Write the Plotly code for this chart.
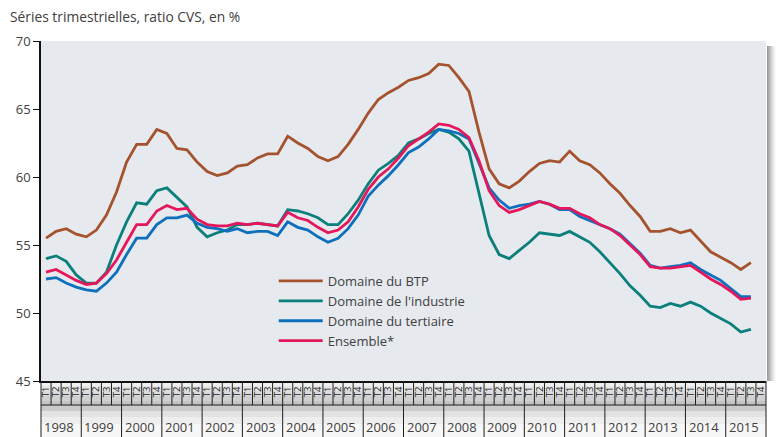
import plotly.graph_objects as go

# quarterly series, 1998 T1 .. 2015 T3
years = list(range(1998, 2016))
quarter_names = ["T1", "T2", "T3", "T4"]
periods = [f"{y} {q}" for y in years for q in quarter_names]

btp = [55.5, 56.0, 56.2, 55.8, 55.6, 56.1, 57.2, 58.9, 61.1, 62.4, 62.4, 63.5,
       63.2, 62.1, 62.0, 61.1, 60.4, 60.1, 60.3, 60.8, 60.9, 61.4, 61.7, 61.7,
       63.0, 62.5, 62.1, 61.5, 61.2, 61.5, 62.4, 63.5, 64.7, 65.7, 66.2, 66.6,
       67.1, 67.3, 67.6, 68.3, 68.2, 67.3, 66.3, 63.3, 60.6, 59.5, 59.2, 59.7,
       60.4, 61.0, 61.2, 61.1, 61.9, 61.2, 60.9, 60.3, 59.5, 58.8, 57.9, 57.1,
       56.0, 56.0, 56.2, 55.9, 56.1, 55.3, 54.5, 54.1, 53.7, 53.2, 53.7]
industrie = [54.0, 54.2, 53.8, 52.8, 52.2, 52.2, 53.0, 55.0, 56.7, 58.1, 58.0, 59.0,
             59.2, 58.5, 57.8, 56.3, 55.6, 55.9, 56.1, 56.5, 56.5, 56.6, 56.5, 56.4,
             57.6, 57.5, 57.3, 57.0, 56.5, 56.5, 57.3, 58.3, 59.5, 60.5, 61.0, 61.6,
             62.5, 62.8, 63.2, 63.5, 63.3, 62.8, 61.9, 58.9, 55.7, 54.3, 54.0, 54.6,
             55.2, 55.9, 55.8, 55.7, 56.0, 55.6, 55.2, 54.5, 53.7, 52.9, 52.0, 51.3,
             50.5, 50.4, 50.7, 50.5, 50.8, 50.5, 50.0, 49.6, 49.2, 48.6, 48.8]
tertiaire = [52.5, 52.6, 52.2, 51.9, 51.7, 51.6, 52.2, 53.0, 54.3, 55.5, 55.5, 56.5,
             57.0, 57.0, 57.2, 56.6, 56.3, 56.2, 56.0, 56.2, 55.9, 56.0, 56.0, 55.7,
             56.7, 56.3, 56.1, 55.6, 55.2, 55.5, 56.2, 57.2, 58.6, 59.4, 60.1, 60.9,
             61.8, 62.2, 62.8, 63.5, 63.4, 63.2, 62.8, 61.0, 59.2, 58.3, 57.7, 57.9,
             58.0, 58.2, 58.0, 57.6, 57.6, 57.1, 56.8, 56.5, 56.2, 55.8, 55.1, 54.4,
             53.5, 53.3, 53.4, 53.5, 53.7, 53.2, 52.8, 52.4, 51.8, 51.2, 51.2]
ensemble = [53.0, 53.2, 52.8, 52.4, 52.1, 52.2, 52.9, 53.9, 55.2, 56.5, 56.5, 57.5,
            57.9, 57.6, 57.7, 56.9, 56.5, 56.4, 56.4, 56.6, 56.5, 56.6, 56.5, 56.4,
            57.4, 57.0, 56.8, 56.3, 55.9, 56.1, 56.7, 57.8, 59.1, 60.0, 60.6, 61.4,
            62.3, 62.8, 63.3, 63.9, 63.8, 63.5, 62.9, 61.2, 59.0, 57.9, 57.4, 57.6,
            57.9, 58.2, 58.0, 57.7, 57.7, 57.3, 57.0, 56.5, 56.2, 55.7, 55.0, 54.3,
            53.4, 53.3, 53.3, 53.4, 53.5, 53.0, 52.5, 52.1, 51.6, 51.0, 51.1]

series = [
    ("Domaine du BTP", btp, "#a5532e"),
    ("Domaine de l'industrie", industrie, "#0b7f7b"),
    ("Domaine du tertiaire", tertiaire, "#0e6fbd"),
    ("Ensemble*", ensemble, "#e5175b"),
]

FONT = "Open Sans"
TXT = "#404040"
W, H = 776, 437
L, R, T, B = 41, 10, 41, 56
PW, PH = W - L - R, H - T - B

fig = go.Figure()
for name, vals, col in series:
    fig.add_trace(go.Scatter(x=periods[:len(vals)], y=vals, name=name, mode="lines",
                             line=dict(color=col, width=2.8)))

n_q = len(periods)
shapes = []

def py(px):  # pixel from top of figure -> paper y
    return (H - B - px) / PH

# grey gradient band under the plot
grad = [(381, 386, "#f0f0f0"), (386, 391, "#e6e6e6"), (391, 396, "#dbdbdb"),
        (396, 401, "#d0d0d0"), (401, 406, "#c4c4c4"), (406, 411, "#cbcbcb"),
        (411, 417, "#e2e2e2"), (417, 424, "#eeeeee"), (424, 437, "#f7f7f7")]
for a, b, c in grad:
    shapes.append(dict(type="rect", xref="paper", yref="paper", x0=0, x1=1,
                       y0=py(b), y1=py(a), fillcolor=c, line_width=0, layer="below"))

# right shadow
shade = ["#9c9c9c", "#a8a8a8", "#b6b6b6", "#c4c4c4", "#d2d2d2", "#dfdfdf", "#eaeaea", "#f3f3f3", "#fafafa"]
for k, c in enumerate(shade):
    shapes.append(dict(type="rect", xref="paper", yref="paper",
                       x0=1 + (1 + k) / PW, x1=1 + (2 + k) / PW, y0=0, y1=py(46),
                       fillcolor=c, line_width=0, layer="below"))

# quarter / year separators
for k in range(n_q + 1):
    bottom = py(437) if k % 4 == 0 else py(405)
    shapes.append(dict(type="line", xref="paper", yref="paper", x0=k / n_q, x1=k / n_q,
                       y0=0, y1=bottom, line=dict(color="#1e1e1e", width=1)))
shapes.append(dict(type="line", xref="paper", yref="paper", x0=0, x1=1,
                   y0=py(405), y1=py(405), line=dict(color="#1e1e1e", width=1)))

annotations = [dict(text="Séries trimestrielles, ratio CVS, en %", xref="paper", yref="paper",
                    x=-33 / PW, y=py(16), xanchor="left", yanchor="middle", showarrow=False,
                    font=dict(family=FONT, size=13.8, color=TXT))]
for j, yr in enumerate(years):
    annotations.append(dict(text=str(yr), xref="paper", yref="paper",
                            x=(4 * j + 2) / n_q, y=py(427), xanchor="center", yanchor="middle",
                            xshift=-2, showarrow=False, font=dict(family=FONT, size=13, color=TXT)))

fig.update_layout(
    width=W, height=H, margin=dict(l=L, r=R, t=T, b=B),
    paper_bgcolor="white", plot_bgcolor="#e6e9ee",
    font=dict(family=FONT, size=13, color=TXT),
    showlegend=True,
    legend=dict(x=0.321, y=py(266), xanchor="left", yanchor="top", bgcolor="rgba(0,0,0,0)",
                font=dict(family=FONT, size=13, color=TXT), itemwidth=44, tracegroupgap=0),
    shapes=shapes, annotations=annotations,
)
fig.update_xaxes(type="category", categoryorder="array", categoryarray=periods,
                 range=[-0.5, n_q - 0.5], tickvals=periods,
                 ticktext=[p.split(" ")[1] for p in periods], tickangle=-90,
                 tickfont=dict(family=FONT, size=9.5, color="#222"), ticks="",
                 showgrid=False, zeroline=False, showline=True, linecolor="#111", linewidth=1.5)
fig.update_yaxes(range=[45, 70], tickvals=[45, 50, 55, 60, 65, 70], ticks="outside", ticklen=6,
                 tickcolor="#111", tickwidth=1, showgrid=False, zeroline=False, showline=True,
                 linecolor="#111", linewidth=1.5,
                 tickfont=dict(family=FONT, size=13, color=TXT))

# the default page keeps an 8px body margin; drop it so the figure fills the window
fig.write_html("out.html", config={"displayModeBar": False},
               post_script="document.body.style.margin='0';")
